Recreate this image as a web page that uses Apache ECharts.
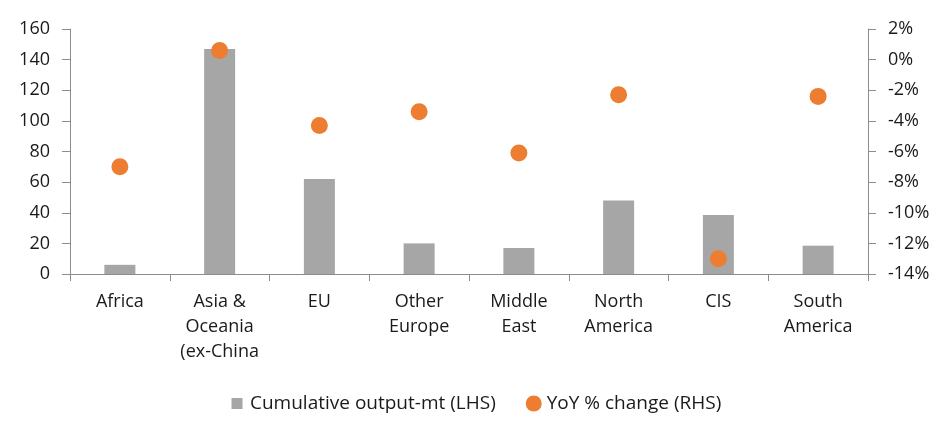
<!DOCTYPE html>
<html>
<head>
<meta charset="utf-8">
<script src="https://cdn.jsdelivr.net/npm/echarts@6/dist/echarts.min.js"></script>
<style>
  html, body { margin: 0; padding: 0; background: #fff; }
  #chart { width: 952px; height: 438px; }
</style>
</head>
<body>
<div id="chart"></div>
<script>
// regions on the x axis
const regions = ['Africa', 'Asia &\nOceania\n(ex-China', 'EU', 'Other\nEurope', 'Middle\nEast', 'North\nAmerica', 'CIS', 'South\nAmerica'];
// cumulative output, million tonnes (LHS)
const outputMt = [6, 147, 62, 20, 17, 48, 38.5, 18.5];
// year-on-year change, % (RHS)
const yoyPct = [-7.0, 0.6, -4.3, -3.4, -6.1, -2.3, -13.0, -2.4];

const font = 'Open Sans';
const textColor = '#1a1a1a';
const axisColor = '#8c8c8c';

const chart = echarts.init(document.getElementById('chart'));
chart.setOption({
    animation: false,
    textStyle: { fontFamily: font },
    grid: { left: 70, right: 84, top: 29, bottom: 164 },
    legend: {
        top: 394,
        left: 229,
        padding: 0,
        itemGap: 30,
        itemWidth: 16,
        itemHeight: 16,
        textStyle: { fontFamily: font, fontSize: 19, color: textColor },
        data: [
            // moveTo corners pad the square so it draws smaller than the circle
            { name: 'Cumulative output-mt (LHS)', icon: 'path://M0,0M16,16M2.5,2.5L13.5,2.5L13.5,13.5L2.5,13.5Z', itemStyle: { color: '#a6a6a6' } },
            { name: 'YoY % change (RHS)', icon: 'circle' }
        ]
    },
    xAxis: {
        type: 'category',
        data: regions,
        axisLine: { lineStyle: { color: axisColor } },
        axisTick: { show: true, length: 7, interval: 0, lineStyle: { color: axisColor } },
        axisLabel: { interval: 0, fontSize: 18, color: textColor, lineHeight: 25, margin: 15 }
    },
    yAxis: [
        {
            type: 'value',
            min: 0,
            max: 160,
            interval: 20,
            position: 'left',
            splitLine: { show: false },
            axisLine: { show: true, lineStyle: { color: axisColor } },
            axisTick: { show: true, length: 8, lineStyle: { color: axisColor } },
            axisLabel: { fontSize: 18, color: textColor, margin: 20 }
        },
        {
            type: 'value',
            min: -14,
            max: 2,
            interval: 2,
            position: 'right',
            splitLine: { show: false },
            axisLine: { show: true, lineStyle: { color: axisColor } },
            axisTick: { show: true, length: 8, lineStyle: { color: axisColor } },
            axisLabel: { fontSize: 18, color: textColor, margin: 20, formatter: v => v + '%' }
        }
    ],
    series: [
        {
            name: 'Cumulative output-mt (LHS)',
            type: 'bar',
            yAxisIndex: 0,
            barWidth: 31,
            itemStyle: { color: '#a6a6a6' },
            data: outputMt
        },
        {
            name: 'YoY % change (RHS)',
            type: 'scatter',
            yAxisIndex: 1,
            symbolSize: 17,
            itemStyle: { color: '#ed7d31', opacity: 1 },
            data: yoyPct
        }
    ]
});
</script>
</body>
</html>
